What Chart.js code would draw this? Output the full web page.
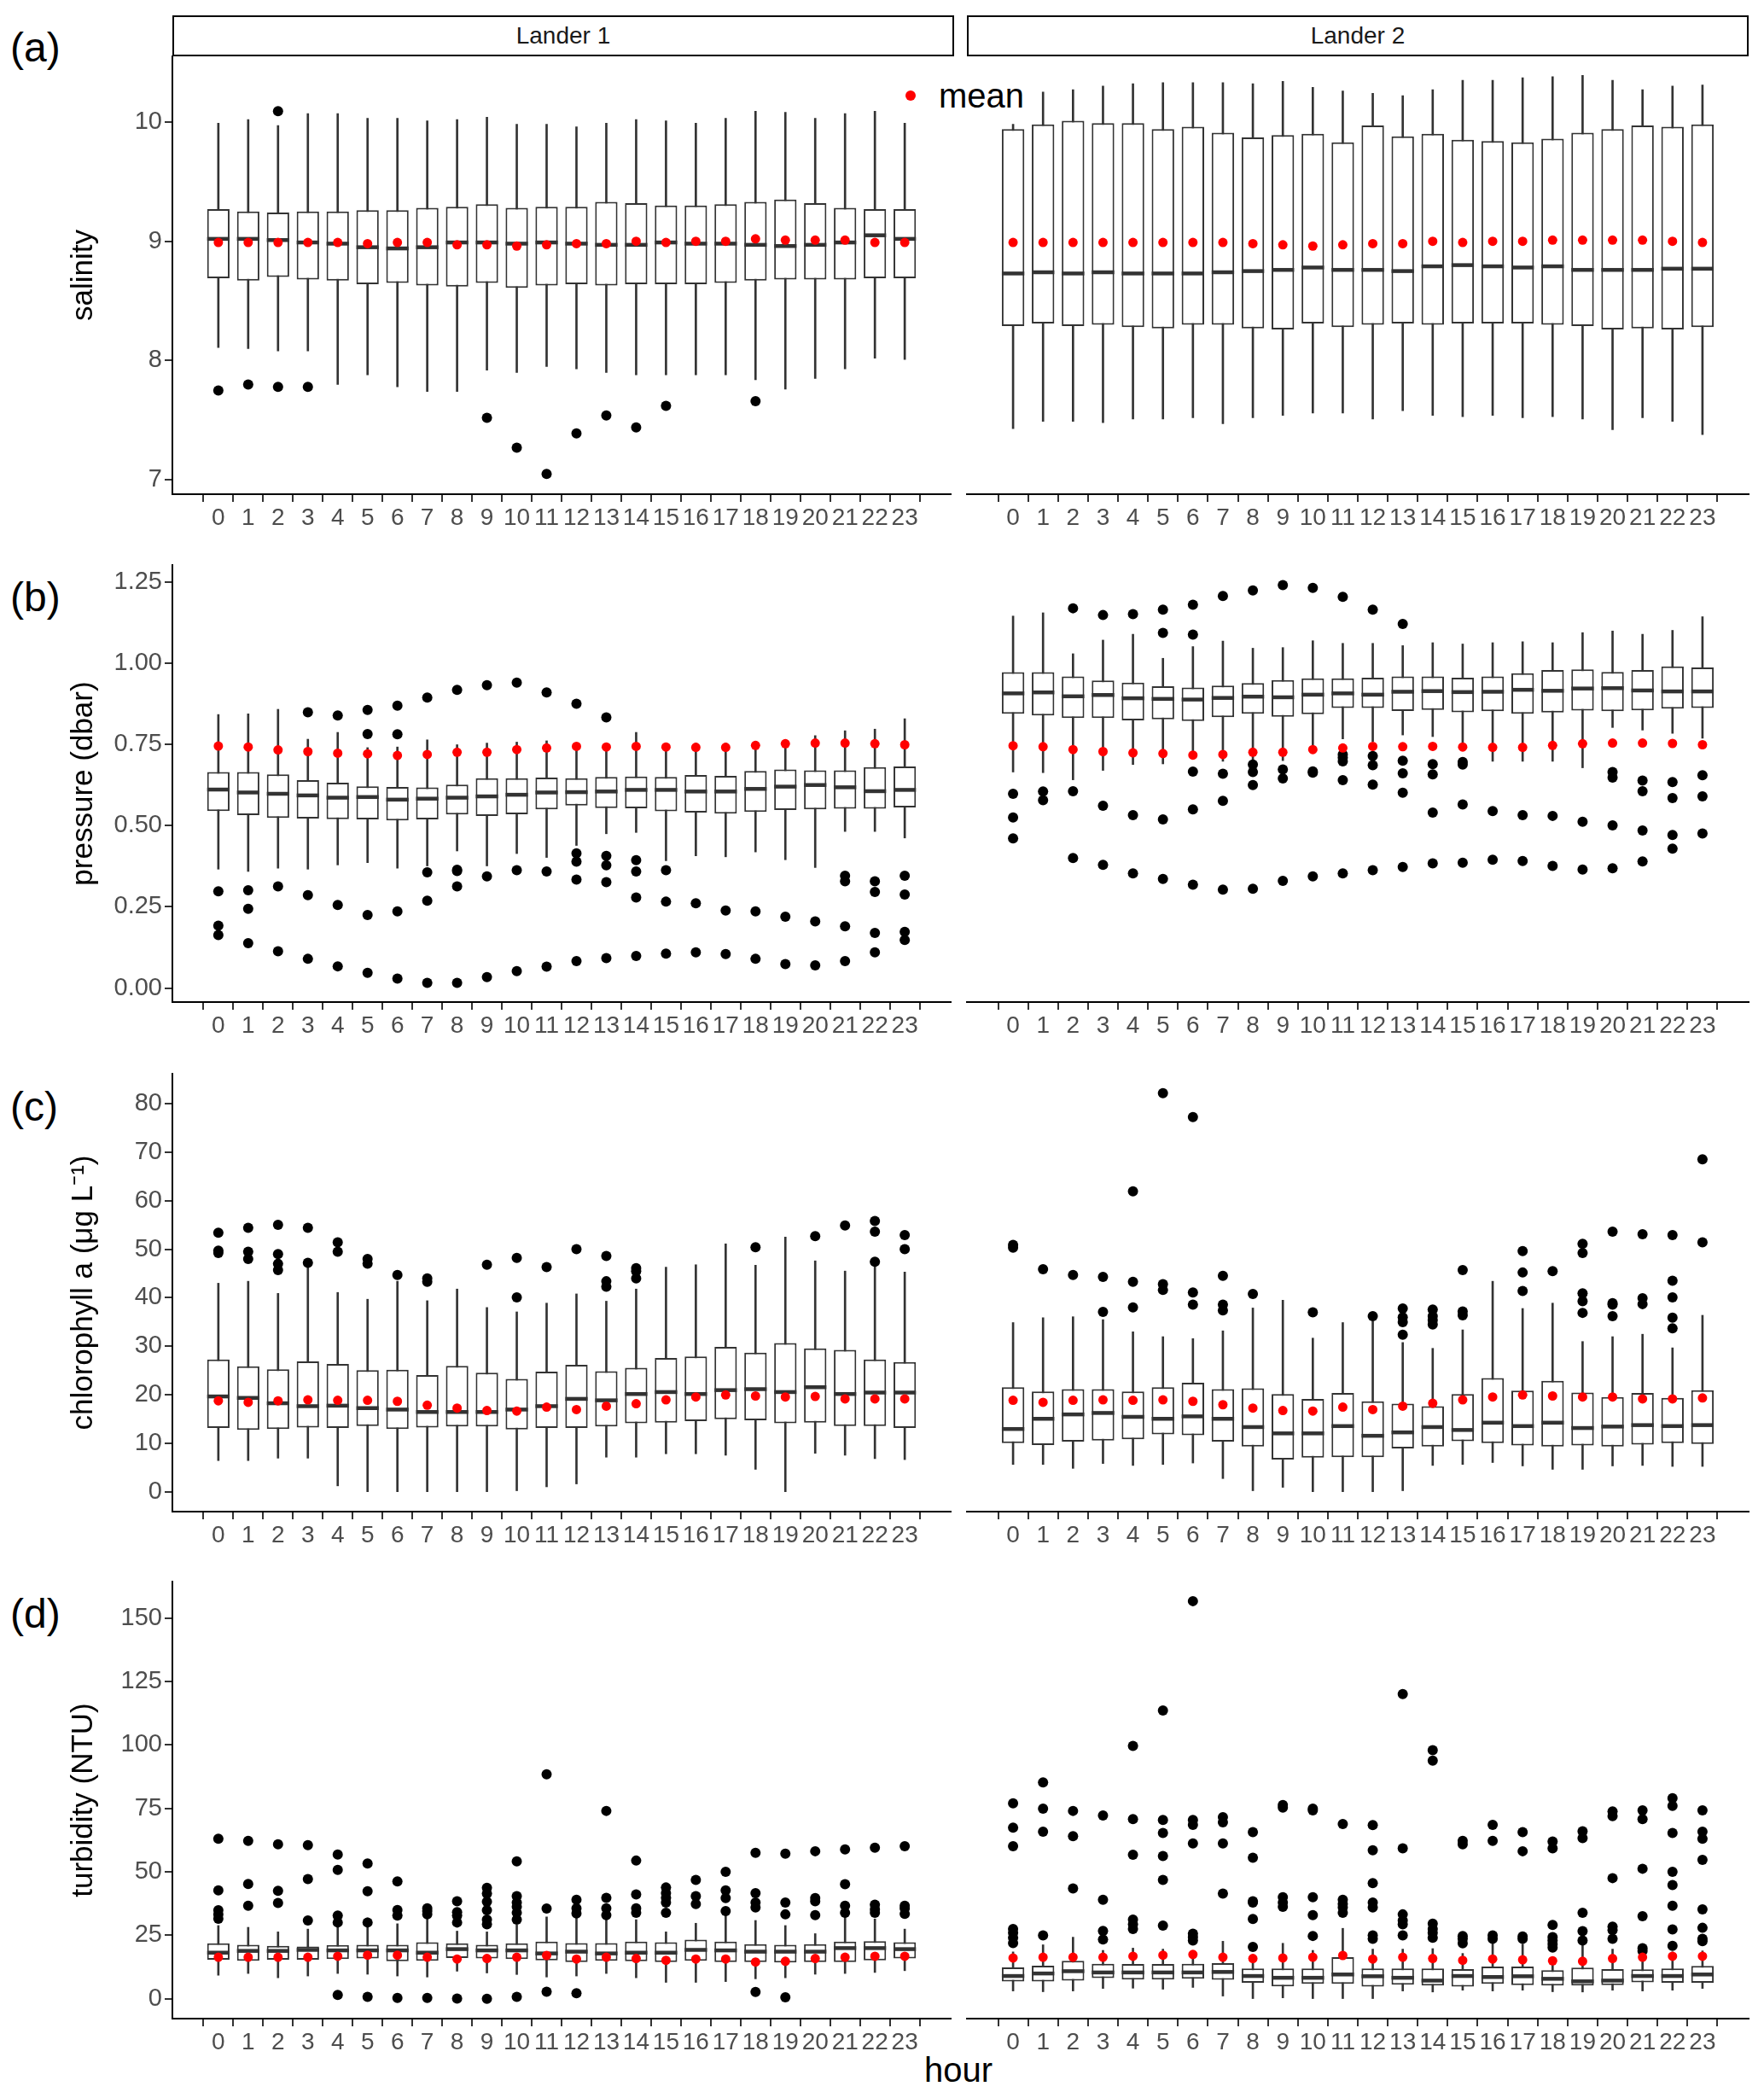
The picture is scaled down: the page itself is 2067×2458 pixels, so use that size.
<!DOCTYPE html>
<html>
<head>
<meta charset="utf-8">
<script src="https://cdn.jsdelivr.net/npm/chart.js@4.4.1/dist/chart.umd.min.js"></script>
<style>
  body { margin: 0; background: #fff; width: 2067px; height: 2458px; position: relative; overflow: hidden;
         font-family: 'Liberation Sans', Arial, sans-serif; }
  canvas { position: absolute; }
  .strip { position: absolute; border: 2px solid #000; box-sizing: border-box; text-align: center;
           font-size: 28px; color: #1a1a1a; }
  .tag { position: absolute; font-size: 48px; line-height: 48px; color: #000; }
  .txt { position: absolute; color: #000; }
</style>
</head>
<body>

<div class="strip" style="left:202px;top:18px;width:916px;height:48px;line-height:44px;">Lander 1</div>
<div class="strip" style="left:1133px;top:18px;width:916px;height:48px;line-height:44px;">Lander 2</div>

<div class="tag" style="left:12px;top:32px;">(a)</div>
<div class="tag" style="left:12px;top:676px;">(b)</div>
<div class="tag" style="left:12px;top:1273px;">(c)</div>
<div class="tag" style="left:12px;top:1867px;">(d)</div>

<div style="position:absolute;left:1061px;top:106px;width:12px;height:12px;border-radius:50%;background:#ff0000;"></div>
<div class="txt" style="left:1100px;top:92px;font-size:40px;line-height:40px;">mean</div>

<div class="txt" style="left:1023px;top:2405px;width:200px;text-align:center;font-size:40px;line-height:40px;">hour</div>

<canvas id="salL1"></canvas>
<canvas id="salL2"></canvas>
<canvas id="presL1"></canvas>
<canvas id="presL2"></canvas>
<canvas id="chlL1"></canvas>
<canvas id="chlL2"></canvas>
<canvas id="turbL1"></canvas>
<canvas id="turbL2"></canvas>

<script>
// horas del día (eje x)
const hours = [0, 1, 2, 3, 4, 5, 6, 7, 8, 9, 10, 11, 12, 13, 14, 15, 16, 17, 18, 19, 20, 21, 22, 23];
const hourLabels = hours.map(h => String(h));

// filas: [bigote inferior, Q1, mediana, Q3, bigote superior, media]
const salinityL1 = [
  [8.11, 8.69, 9.02, 9.27, 9.99, 8.99], [8.10, 8.67, 9.02, 9.25, 10.02, 8.99], [8.08, 8.70, 9.01, 9.24, 9.97, 8.99],
  [8.08, 8.68, 8.99, 9.25, 10.07, 8.99], [7.80, 8.67, 8.98, 9.25, 10.07, 8.99], [7.88, 8.64, 8.95, 9.26, 10.03, 8.98],
  [7.78, 8.65, 8.94, 9.26, 10.03, 8.99], [7.74, 8.63, 8.95, 9.28, 10.01, 8.99], [7.74, 8.62, 8.99, 9.29, 10.02, 8.97],
  [7.92, 8.65, 8.99, 9.31, 10.04, 8.97], [7.90, 8.61, 8.98, 9.28, 9.98, 8.96], [7.95, 8.63, 8.99, 9.29, 9.98, 8.97],
  [7.93, 8.64, 8.98, 9.29, 9.96, 8.98], [7.90, 8.63, 8.97, 9.33, 9.99, 8.98], [7.88, 8.64, 8.97, 9.32, 10.02, 9.00],
  [7.88, 8.64, 8.99, 9.30, 10.01, 8.99], [7.88, 8.64, 8.98, 9.30, 9.99, 9.00], [7.88, 8.65, 8.98, 9.31, 10.03, 9.00],
  [7.84, 8.67, 8.97, 9.33, 10.09, 9.02], [7.76, 8.68, 8.96, 9.35, 10.08, 9.01], [7.85, 8.68, 8.97, 9.32, 10.03, 9.01],
  [7.93, 8.68, 8.99, 9.28, 10.07, 9.01], [8.02, 8.69, 9.05, 9.27, 10.09, 8.99], [8.01, 8.69, 9.02, 9.27, 9.99, 8.99]
];
const salinityL1Out = [
  [7.75], [7.80], [10.09, 7.78], [7.78], [], [], [], [], [], [7.52], [7.27], [7.05],
  [7.39], [7.54], [7.44], [7.62], [], [], [7.66], [], [], [], [], []
];
const salinityL2 = [
  [7.43, 8.29, 8.73, 9.94, 9.98, 8.99], [7.49, 8.31, 8.74, 9.98, 10.25, 8.99], [7.49, 8.29, 8.73, 10.01, 10.27, 8.99],
  [7.48, 8.30, 8.74, 9.99, 10.30, 8.99], [7.51, 8.28, 8.73, 9.99, 10.32, 8.99], [7.51, 8.27, 8.73, 9.94, 10.33, 8.99],
  [7.52, 8.30, 8.73, 9.96, 10.33, 8.99], [7.47, 8.30, 8.74, 9.91, 10.33, 8.99], [7.52, 8.27, 8.75, 9.87, 10.32, 8.98],
  [7.54, 8.26, 8.76, 9.89, 10.34, 8.97], [7.56, 8.31, 8.78, 9.90, 10.29, 8.96], [7.56, 8.28, 8.76, 9.83, 10.26, 8.97],
  [7.51, 8.30, 8.76, 9.97, 10.24, 8.98], [7.58, 8.31, 8.75, 9.88, 10.22, 8.98], [7.54, 8.30, 8.79, 9.90, 10.27, 9.00],
  [7.53, 8.31, 8.80, 9.85, 10.35, 8.99], [7.54, 8.31, 8.79, 9.84, 10.35, 9.00], [7.52, 8.31, 8.78, 9.83, 10.37, 9.00],
  [7.53, 8.30, 8.79, 9.86, 10.38, 9.01], [7.51, 8.29, 8.76, 9.91, 10.39, 9.01], [7.42, 8.26, 8.76, 9.94, 10.35, 9.01],
  [7.52, 8.27, 8.76, 9.97, 10.27, 9.01], [7.49, 8.26, 8.77, 9.96, 10.30, 9.00], [7.38, 8.28, 8.77, 9.98, 10.31, 8.99]
];
const salinityL2Out = [[], [], [], [], [], [], [], [], [], [], [], [], [], [], [], [], [], [], [], [], [], [], [], []];

const pressureL1 = [
  [0.366, 0.545, 0.611, 0.665, 0.842, 0.745], [0.359, 0.532, 0.602, 0.665, 0.844, 0.742], [0.369, 0.524, 0.598, 0.658, 0.858, 0.733],
  [0.366, 0.522, 0.593, 0.640, 0.766, 0.728], [0.379, 0.520, 0.586, 0.632, 0.787, 0.723], [0.386, 0.519, 0.588, 0.621, 0.740, 0.721],
  [0.369, 0.516, 0.580, 0.619, 0.742, 0.716], [0.376, 0.519, 0.583, 0.618, 0.764, 0.719], [0.422, 0.534, 0.586, 0.626, 0.749, 0.726],
  [0.376, 0.530, 0.590, 0.646, 0.754, 0.726], [0.414, 0.535, 0.595, 0.646, 0.757, 0.734], [0.402, 0.550, 0.602, 0.648, 0.761, 0.739],
  [0.439, 0.562, 0.603, 0.646, 0.749, 0.744], [0.475, 0.554, 0.605, 0.650, 0.749, 0.742], [0.479, 0.553, 0.610, 0.651, 0.787, 0.744],
  [0.392, 0.544, 0.610, 0.650, 0.754, 0.742], [0.407, 0.540, 0.605, 0.656, 0.754, 0.741], [0.404, 0.537, 0.605, 0.653, 0.754, 0.741],
  [0.419, 0.542, 0.613, 0.668, 0.759, 0.747], [0.395, 0.548, 0.620, 0.673, 0.761, 0.752], [0.371, 0.550, 0.625, 0.670, 0.777, 0.754],
  [0.482, 0.552, 0.618, 0.670, 0.792, 0.754], [0.482, 0.552, 0.606, 0.680, 0.797, 0.752], [0.462, 0.556, 0.610, 0.682, 0.829, 0.749]
];
const pressureL1Out = [
  [0.298, 0.192, 0.163], [0.301, 0.244, 0.138], [0.313, 0.113], [0.849, 0.286, 0.090],
  [0.839, 0.256, 0.067], [0.856, 0.782, 0.225, 0.047], [0.869, 0.781, 0.236, 0.029], [0.894, 0.356, 0.269, 0.016],
  [0.918, 0.364, 0.360, 0.313, 0.016], [0.932, 0.344, 0.034], [0.940, 0.363, 0.052], [0.910, 0.359, 0.066],
  [0.875, 0.415, 0.389, 0.334, 0.083], [0.833, 0.407, 0.378, 0.326, 0.092], [0.394, 0.359, 0.279, 0.099], [0.363, 0.266, 0.106],
  [0.261, 0.110], [0.239, 0.105], [0.236, 0.090], [0.220, 0.074],
  [0.205, 0.070], [0.346, 0.329, 0.190, 0.083], [0.329, 0.296, 0.170, 0.110], [0.346, 0.288, 0.173, 0.148]
];
const pressureL2 = [
  [0.665, 0.844, 0.907, 0.972, 1.145, 0.746], [0.663, 0.839, 0.910, 0.972, 1.155, 0.743], [0.641, 0.831, 0.898, 0.959, 1.029, 0.734],
  [0.670, 0.831, 0.902, 0.947, 1.071, 0.728], [0.688, 0.824, 0.892, 0.940, 1.089, 0.724], [0.690, 0.827, 0.890, 0.929, 1.015, 0.722],
  [0.720, 0.822, 0.888, 0.925, 1.051, 0.717], [0.698, 0.834, 0.893, 0.931, 1.068, 0.719], [0.700, 0.844, 0.897, 0.939, 1.046, 0.726],
  [0.700, 0.835, 0.895, 0.948, 1.048, 0.726], [0.737, 0.843, 0.903, 0.953, 1.069, 0.734], [0.767, 0.862, 0.907, 0.953, 1.061, 0.739],
  [0.759, 0.862, 0.903, 0.955, 1.061, 0.744], [0.779, 0.853, 0.912, 0.959, 1.054, 0.743], [0.774, 0.856, 0.914, 0.959, 1.063, 0.744],
  [0.740, 0.849, 0.911, 0.955, 1.059, 0.742], [0.698, 0.852, 0.912, 0.959, 1.063, 0.741], [0.698, 0.844, 0.918, 0.969, 1.066, 0.741],
  [0.698, 0.848, 0.915, 0.979, 1.063, 0.747], [0.678, 0.854, 0.922, 0.981, 1.094, 0.752], [0.802, 0.852, 0.923, 0.973, 1.099, 0.754],
  [0.794, 0.855, 0.916, 0.979, 1.089, 0.754], [0.784, 0.860, 0.913, 0.990, 1.101, 0.753], [0.769, 0.862, 0.913, 0.987, 1.143, 0.749]
];
const pressureL2Out = [
  [0.598, 0.525, 0.461], [0.605, 0.578], [1.169, 0.606, 0.400], [1.148, 0.561, 0.379],
  [1.151, 0.532, 0.353], [1.165, 1.093, 0.519, 0.336], [1.180, 1.088, 0.666, 0.550, 0.318], [1.207, 0.660, 0.576, 0.303],
  [1.224, 0.688, 0.665, 0.625, 0.306], [1.240, 0.673, 0.645, 0.330], [1.232, 0.667, 0.663, 0.344], [1.204, 0.719, 0.709, 0.698, 0.640, 0.353],
  [1.165, 0.714, 0.686, 0.626, 0.363], [1.121, 0.700, 0.661, 0.601, 0.373], [0.689, 0.658, 0.540, 0.384], [0.696, 0.688, 0.565, 0.386],
  [0.545, 0.395], [0.532, 0.391], [0.530, 0.376], [0.512, 0.365],
  [0.665, 0.648, 0.501, 0.369], [0.639, 0.606, 0.485, 0.390], [0.634, 0.585, 0.471, 0.429], [0.655, 0.590, 0.476]
];

const chlorophyllL1 = [
  [6.5, 13.2, 19.7, 27.3, 43.0, 18.8], [6.5, 12.8, 19.4, 25.9, 43.4, 18.5], [7.0, 13.0, 18.3, 25.3, 40.9, 18.8],
  [7.0, 13.3, 17.7, 26.9, 46.3, 19.0], [1.3, 13.2, 17.8, 26.4, 41.1, 18.9], [0.1, 13.6, 17.3, 25.1, 39.7, 18.9],
  [0.1, 13.0, 17.0, 25.2, 43.4, 18.7], [0.1, 13.3, 16.5, 24.1, 39.4, 17.9], [0.1, 13.5, 16.5, 26.0, 41.8, 17.3],
  [0.1, 13.5, 16.5, 24.6, 38.0, 16.8], [0.3, 12.9, 17.0, 23.3, 37.1, 16.7], [1.1, 13.2, 17.7, 24.8, 38.9, 17.5],
  [1.7, 13.2, 19.2, 26.2, 40.8, 17.0], [7.2, 13.5, 18.9, 24.9, 39.3, 17.7], [7.2, 14.2, 20.2, 25.6, 41.8, 18.2],
  [7.9, 14.3, 20.6, 27.6, 46.3, 19.0], [7.9, 14.6, 20.2, 27.9, 46.8, 19.6], [7.6, 15.0, 21.0, 29.9, 51.1, 20.0],
  [4.7, 14.8, 21.2, 28.7, 46.7, 19.8], [0.1, 14.2, 20.6, 30.7, 52.5, 19.6], [8.0, 14.3, 21.6, 29.6, 47.6, 19.7],
  [7.6, 13.6, 20.2, 29.3, 45.5, 19.2], [6.9, 13.6, 20.5, 27.3, 46.7, 19.2], [6.7, 13.2, 20.5, 26.8, 45.3, 19.2]
];
const chlorophyllL1Out = [
  [53.4, 49.7, 49.2], [54.4, 49.5, 48.0], [55.0, 49.0, 47.0, 45.7], [54.4, 47.2], [51.4, 49.5], [48.0, 47.0],
  [44.7], [44.0, 43.3], [], [46.8], [48.2, 40.1], [46.3],
  [50.0], [48.6, 43.4, 42.3], [46.1, 45.5, 44.0], [], [], [],
  [50.4], [], [52.7], [54.9], [55.8, 53.6, 47.4], [52.9, 50.0]
];
const chlorophyllL2 = [
  [5.7, 10.1, 13.0, 21.6, 34.9, 18.9], [5.7, 9.7, 15.1, 20.7, 35.9, 18.5], [4.9, 10.4, 16.0, 21.2, 36.1, 18.9],
  [5.9, 10.6, 16.3, 21.2, 35.5, 19.0], [5.5, 10.9, 15.5, 20.7, 33.0, 18.9], [5.7, 11.9, 15.1, 21.6, 32.0, 19.0],
  [6.0, 11.7, 15.6, 22.5, 31.6, 18.7], [2.8, 10.4, 15.1, 21.2, 33.2, 18.0], [0.3, 9.4, 13.4, 21.4, 37.9, 17.3],
  [1.0, 6.7, 12.1, 20.2, 39.5, 16.8], [0.1, 7.1, 12.1, 19.2, 31.7, 16.7], [0.1, 7.2, 13.6, 20.4, 34.9, 17.5],
  [0.1, 7.2, 11.6, 18.7, 35.2, 17.0], [0.3, 9.0, 12.3, 18.2, 30.8, 17.7], [5.5, 9.4, 13.4, 17.7, 29.6, 18.3],
  [5.7, 10.5, 12.8, 20.2, 33.4, 19.0], [6.1, 10.1, 14.3, 23.5, 43.4, 19.6], [5.4, 9.6, 13.6, 20.9, 37.8, 20.0],
  [4.7, 9.4, 14.3, 22.9, 38.9, 19.8], [4.7, 9.6, 13.2, 20.5, 31.0, 19.6], [5.4, 9.4, 13.5, 19.6, 32.0, 19.6],
  [5.5, 9.8, 13.8, 20.4, 32.5, 19.2], [5.3, 10.1, 13.6, 19.4, 29.7, 19.2], [5.3, 9.9, 13.8, 21.0, 36.4, 19.4]
];
const chlorophyllL2Out = [
  [50.9, 50.3], [45.9], [44.7], [44.3, 37.1], [61.9, 43.3, 38.0], [82.1, 42.8, 41.6],
  [77.2, 41.1, 38.6], [44.5, 38.6, 37.4], [40.8], [], [37.0], [],
  [36.2], [37.8, 36.0, 35.0, 32.4], [37.6, 36.2, 35.4, 34.5], [45.7, 37.2, 36.4], [], [49.6, 45.2, 41.4],
  [45.5], [51.1, 49.2, 40.9, 39.3, 36.9], [53.6, 38.9, 38.6, 36.2], [53.1, 39.9, 38.7], [52.9, 43.5, 40.1, 35.9, 33.7], [68.5, 51.4]
];

const turbidityL1 = [
  [9.2, 15.3, 18.1, 21.8, 28.8, 16.3], [9.9, 14.9, 18.8, 21.2, 28.1, 16.3], [8.2, 15.3, 18.8, 20.8, 26.3, 16.3],
  [8.9, 15.3, 19.2, 20.5, 27.4, 16.3], [9.9, 15.6, 19.0, 21.1, 31.4, 16.7], [9.6, 15.8, 19.0, 21.2, 31.8, 17.1],
  [8.9, 14.7, 19.0, 21.2, 29.5, 17.1], [8.5, 14.9, 18.1, 22.2, 31.5, 16.3], [10.8, 16.0, 19.5, 21.8, 26.6, 15.6],
  [10.1, 15.8, 19.0, 21.2, 26.3, 15.8], [9.5, 15.6, 19.0, 21.8, 29.0, 16.3], [8.5, 15.1, 17.8, 22.5, 32.2, 17.0],
  [8.9, 14.4, 18.5, 21.9, 31.8, 15.6], [9.9, 14.9, 17.8, 21.9, 32.2, 16.3], [8.2, 14.7, 18.1, 22.5, 31.1, 15.8],
  [6.4, 14.4, 18.1, 22.2, 26.3, 15.1], [6.4, 14.9, 19.2, 23.2, 29.7, 15.6], [6.7, 14.4, 19.0, 22.5, 32.9, 15.6],
  [7.8, 14.4, 18.5, 21.5, 30.8, 14.4], [8.2, 14.2, 18.5, 21.2, 28.8, 14.7], [9.6, 14.4, 18.5, 21.5, 25.6, 15.8],
  [9.9, 14.4, 19.9, 22.5, 34.1, 16.3], [10.3, 15.1, 19.9, 22.6, 31.4, 16.7], [11.0, 15.8, 19.5, 22.2, 27.4, 16.7]
];
const turbidityL1Out = [
  [63.0, 42.7, 34.8, 33.2, 31.5], [62.2, 45.2, 36.6], [60.8, 42.5, 37.7], [60.5, 47.1, 30.8],
  [56.8, 50.7, 32.7, 30.0, 1.4], [53.3, 42.3, 30.0, 0.7], [46.2, 34.9, 32.7, 0.3], [35.6, 34.5, 33.2, 0.3],
  [38.4, 34.1, 32.7, 30.0, 0.0], [43.7, 41.4, 38.2, 34.8, 31.1, 29.3, -0.1], [54.1, 40.4, 37.9, 36.2, 33.8, 31.1, 0.7], [88.4, 35.5, 2.7],
  [39.0, 35.6, 33.6, 2.1], [74.0, 39.7, 35.6, 32.9], [54.4, 41.1, 35.6, 33.8], [43.8, 41.6, 39.7, 37.9, 33.8],
  [46.8, 40.4, 37.3], [50.0, 42.7, 39.6, 34.5], [57.5, 41.6, 37.9, 35.9, 2.6], [57.1, 37.9, 33.2, 0.5],
  [58.1, 39.6, 38.4, 32.9], [58.8, 45.1, 36.6, 33.8], [59.5, 37.0, 35.2, 33.8], [60.1, 36.6, 35.5, 33.4]
];
const turbidityL2 = [
  [3.0, 6.7, 8.9, 12.3, 18.4, 16.0], [2.7, 6.7, 9.9, 13.0, 21.2, 16.3], [3.0, 7.1, 10.8, 14.9, 24.2, 16.3],
  [4.0, 8.1, 10.3, 13.7, 19.0, 16.3], [4.1, 7.5, 10.3, 13.6, 19.9, 16.7], [3.7, 7.5, 10.3, 13.6, 19.5, 17.1],
  [4.4, 7.8, 10.3, 13.7, 18.8, 17.4], [1.0, 7.4, 10.5, 14.0, 22.6, 16.3], [0.0, 6.2, 8.9, 11.9, 15.6, 15.8],
  [0.3, 4.8, 8.2, 11.9, 21.8, 16.0], [0.0, 5.8, 8.2, 11.9, 19.0, 16.3], [0.0, 5.8, 9.5, 16.3, 27.7, 17.0],
  [0.0, 4.7, 8.8, 11.9, 19.5, 15.6], [3.0, 5.5, 8.2, 11.9, 19.5, 16.3], [2.6, 5.1, 7.1, 11.9, 19.7, 15.8],
  [3.3, 4.7, 8.9, 11.6, 17.8, 15.1], [3.0, 5.8, 8.5, 12.6, 21.8, 15.6], [3.3, 5.3, 8.8, 12.6, 21.5, 15.3],
  [2.7, 5.1, 7.8, 11.2, 14.7, 14.9], [2.6, 5.1, 6.8, 12.2, 25.6, 14.7], [3.3, 5.3, 7.1, 11.6, 19.5, 15.8],
  [3.0, 6.4, 8.9, 11.5, 18.1, 16.3], [3.3, 6.2, 8.9, 11.9, 18.4, 16.7], [4.0, 6.2, 9.5, 12.9, 18.8, 16.7]
];
const turbidityL2Out = [
  [77.0, 67.4, 60.1, 27.4, 25.9, 24.0, 21.9], [85.2, 74.9, 65.8, 24.9], [74.0, 64.0, 43.4], [72.2, 39.0, 26.7, 23.3],
  [99.6, 70.8, 56.7, 31.1, 29.3, 27.4], [113.6, 70.4, 65.3, 56.2, 46.8, 28.8], [156.7, 70.4, 68.5, 61.2, 25.6, 24.2, 22.9], [71.5, 69.5, 61.2, 41.4],
  [65.6, 55.5, 38.4, 37.9, 31.4, 20.4], [76.3, 75.3, 40.0, 37.9, 36.2], [74.9, 74.2, 40.0, 32.9, 24.7], [68.8, 39.0, 37.3, 35.9, 33.8],
  [68.4, 58.5, 45.5, 37.9, 35.9, 24.9, 23.6], [120.1, 59.2, 33.2, 30.8, 29.3, 24.9], [97.9, 93.8, 29.5, 27.4, 25.9, 24.0], [62.2, 60.8, 24.7, 23.6, 21.8],
  [68.5, 62.2, 24.9, 23.6], [65.6, 58.1, 24.5, 23.6], [61.9, 59.2, 29.0, 24.2, 22.9, 21.5, 20.1], [66.0, 63.3, 33.8, 26.6, 22.9],
  [73.8, 71.9, 47.5, 28.4, 27.0, 23.6], [74.2, 70.8, 51.2, 32.5, 19.9, 18.8], [79.0, 76.0, 65.3, 50.0, 44.8, 36.6, 27.3, 20.8], [74.2, 65.8, 63.0, 54.7, 35.2, 27.9, 23.6, 22.6]
];

// marcas del eje y de cada fila
const salinityTicks = [7, 8, 9, 10];
const salinityTickLabels = ['7', '8', '9', '10'];
const pressureTicks = [0, 0.25, 0.5, 0.75, 1, 1.25];
const pressureTickLabels = ['0.00', '0.25', '0.50', '0.75', '1.00', '1.25'];
const chlorophyllTicks = [0, 10, 20, 30, 40, 50, 60, 70, 80];
const chlorophyllTickLabels = ['0', '10', '20', '30', '40', '50', '60', '70', '80'];
const turbidityTicks = [0, 25, 50, 75, 100, 125, 150];
const turbidityTickLabels = ['0', '25', '50', '75', '100', '125', '150'];

// Geometría de las filas (px): borde superior e inferior del área de trazado
const filas = {
    a: { top: 66, bottom: 579 },
    b: { top: 662, bottom: 1174 },
    c: { top: 1258, bottom: 1771 },
    d: { top: 1853, bottom: 2365 }
};
// margen superior mayor que media etiqueta del eje y, para que ambos paneles coincidan
const PAD_TOP = 22;
const X_AXIS_H = 50;
const LEFT_CANVAS_X = 77;

function anchoCategoria(ctx) {
    const x = ctx.chart.scales.x;
    return x.getPixelForValue(1) - x.getPixelForValue(0);
}

function dibujarPanel(id, fila, izquierda, filasCaja, atipicos, rango, marcas, etiquetas, titulo) {
    const canvas = document.getElementById(id);
    const left = izquierda ? LEFT_CANVAS_X : 1125;
    const width = izquierda ? 1120 - LEFT_CANVAS_X : 942;
    const height = PAD_TOP + (fila.bottom - fila.top) + X_AXIS_H;
    canvas.width = width;
    canvas.height = height;
    canvas.style.left = left + 'px';
    canvas.style.top = (fila.top - PAD_TOP) + 'px';

    const cajas = filasCaja.map((r, i) => ({ x: hours[i], y: [r[1], r[3]] }));
    const bigotes = filasCaja.map((r, i) => ({ x: hours[i], y: [r[0], r[4]] }));
    const medianas = filasCaja.map((r, i) => ({ x: hours[i], y: r[2] }));
    const medias = filasCaja.map((r, i) => ({ x: hours[i], y: r[5] }));
    const puntos = [];
    atipicos.forEach((lista, i) => lista.forEach(v => puntos.push({ x: hours[i], y: v })));

    new Chart(canvas, {
        type: 'bar',
        data: {
            datasets: [
                { type: 'line', data: medias, showLine: false, pointRadius: 5.5, pointBackgroundColor: '#ff0000',
                  pointBorderWidth: 0, order: 0, clip: false },
                { type: 'line', data: puntos, showLine: false, pointRadius: 6, pointBackgroundColor: '#000000',
                  pointBorderWidth: 0, order: 1, clip: false },
                { type: 'line', data: medianas, showLine: false, pointStyle: 'line',
                  pointRadius: ctx => anchoCategoria(ctx) * 0.375, pointBorderColor: '#333333',
                  pointBorderWidth: 4.5, order: 2, clip: false },
                { type: 'bar', data: cajas, backgroundColor: '#ffffff', borderColor: '#333333', borderWidth: 2,
                  borderSkipped: false, grouped: false, categoryPercentage: 0.75, barPercentage: 1, order: 3 },
                { type: 'bar', data: bigotes, backgroundColor: '#333333', barThickness: 2, grouped: false, order: 4 }
            ]
        },
        options: {
            responsive: false,
            animation: false,
            devicePixelRatio: 1,
            events: [],
            layout: { padding: { top: PAD_TOP, bottom: 0, left: izquierda ? 0 : 8, right: izquierda ? 2 : 18 } },
            plugins: { legend: { display: false }, tooltip: { enabled: false } },
            scales: {
                x: {
                    type: 'linear', min: -1.54, max: 24.54, offset: false,
                    afterBuildTicks: s => { s.ticks = hours.map(h => ({ value: h })); },
                    afterFit: s => { s.height = X_AXIS_H; },
                    ticks: {
                        autoSkip: false, maxRotation: 0, padding: 2, color: '#4d4d4d',
                        font: { family: "'Liberation Sans Narrow', 'Liberation Sans', Arial", size: 28 },
                        callback: (v, i) => hourLabels[i]
                    },
                    grid: { display: true, drawOnChartArea: false, drawTicks: true, tickLength: 9, color: '#333333', lineWidth: 2 },
                    border: { display: true, color: '#000000', width: 2 }
                },
                y: {
                    type: 'linear', display: izquierda, min: rango[0], max: rango[1],
                    afterBuildTicks: s => { s.ticks = marcas.map(v => ({ value: v })); },
                    // solo el panel izquierdo reserva ancho para el eje y
                    afterFit: s => { s.width = izquierda ? 202 - LEFT_CANVAS_X : 0; },
                    ticks: {
                        padding: 3, color: '#4d4d4d',
                        font: { family: "'Liberation Sans', Arial", size: 29 },
                        callback: (v, i) => etiquetas[i]
                    },
                    grid: { display: true, drawOnChartArea: false, drawTicks: true, tickLength: 9, color: '#333333', lineWidth: 2 },
                    border: { display: true, color: '#000000', width: 2 },
                    title: { display: true, text: titulo, color: '#000000',
                             font: { family: "'Liberation Sans', Arial", size: 35 }, padding: { top: 0, bottom: 0 } }
                }
            }
        }
    });
}

// (a) salinidad
dibujarPanel('salL1', filas.a, true, salinityL1, salinityL1Out, [6.88, 10.55], salinityTicks, salinityTickLabels, 'salinity');
dibujarPanel('salL2', filas.a, false, salinityL2, salinityL2Out, [6.88, 10.55], salinityTicks, salinityTickLabels, 'salinity');
// (b) presión
dibujarPanel('presL1', filas.b, true, pressureL1, pressureL1Out, [-0.043, 1.302], pressureTicks, pressureTickLabels, 'pressure (dbar)');
dibujarPanel('presL2', filas.b, false, pressureL2, pressureL2Out, [-0.043, 1.302], pressureTicks, pressureTickLabels, 'pressure (dbar)');
// (c) clorofila
dibujarPanel('chlL1', filas.c, true, chlorophyllL1, chlorophyllL1Out, [-4.0, 86.1], chlorophyllTicks, chlorophyllTickLabels, 'chlorophyll a (\u03bcg L\u207b\u00b9)');
dibujarPanel('chlL2', filas.c, false, chlorophyllL2, chlorophyllL2Out, [-4.0, 86.1], chlorophyllTicks, chlorophyllTickLabels, 'chlorophyll a (\u03bcg L\u207b\u00b9)');
// (d) turbidez
dibujarPanel('turbL1', filas.d, true, turbidityL1, turbidityL1Out, [-7.9, 164.4], turbidityTicks, turbidityTickLabels, 'turbidity (NTU)');
dibujarPanel('turbL2', filas.d, false, turbidityL2, turbidityL2Out, [-7.9, 164.4], turbidityTicks, turbidityTickLabels, 'turbidity (NTU)');
</script>
</body>
</html>
